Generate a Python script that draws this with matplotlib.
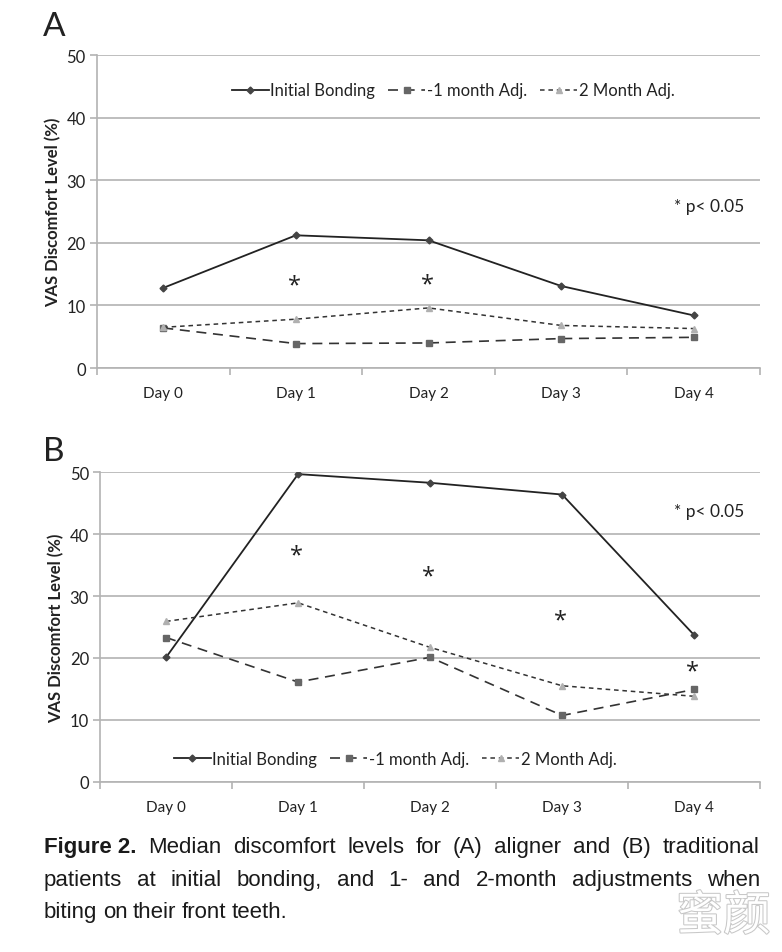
import numpy as np
import matplotlib
matplotlib.use("Agg")
import matplotlib.pyplot as plt
import matplotlib.patheffects as pe

# data
days = ["Day 0", "Day 1", "Day 2", "Day 3", "Day 4"]

a_initial = [12.8, 21.2, 20.4, 13.1, 8.4]
a_one_month = [6.4, 3.9, 4.0, 4.7, 4.9]
a_two_month = [6.5, 7.8, 9.6, 6.8, 6.3]
a_star_days = [1, 2]
a_star_vals = [13.2, 13.4]

b_initial = [20.1, 49.7, 48.3, 46.4, 23.7]
b_one_month = [23.3, 16.1, 20.1, 10.7, 14.9]
b_two_month = [25.9, 28.9, 21.7, 15.5, 13.8]
b_star_days = [1, 2, 3, 4]
b_star_vals = [36.5, 33.1, 26.1, 17.8]

series_names = ["Initial Bonding", "-1 month Adj.", "2 Month Adj."]
y_ticks = [0, 10, 20, 30, 40, 50]

caption_lines = [
    ["Figure 2.", "Median", "discomfort", "levels", "for", "(A)", "aligner", "and", "(B)", "traditional"],
    ["patients", "at", "initial", "bonding,", "and", "1-", "and", "2-month", "adjustments", "when"],
    ["biting", "on", "their", "front", "teeth."],
]

plt.rcParams['font.family'] = ['Lato', 'DejaVu Sans']
grid_c = '#b3b3b3'
txt_c = '#222222'

fig = plt.figure(figsize=(7.82, 9.53), dpi=100)
axA = fig.add_axes([0.124, 0.6128, 0.848, 0.3284])
axB = fig.add_axes([0.128, 0.1787, 0.844, 0.3247])


def draw_panel(ax, init, one, two, sdays, svals, ptext_y, leg_y, leg_x):
    x = np.arange(len(days))
    ax.plot(x, init, color='#222222', lw=1.3, marker='D', ms=3.5,
            markerfacecolor='#444444', markeredgecolor='#444444',
            label=series_names[0])
    ax.plot(x, one, color='#333333', lw=1.2, ls=(0, (6, 4)), marker='s', ms=5,
            markerfacecolor='#666666', markeredgecolor='#666666',
            label=series_names[1])
    ax.plot(x, two, color='#333333', lw=1.1, ls=(0, (3, 2.5)), marker='^', ms=5,
            markerfacecolor='#b0b0b0', markeredgecolor='#b0b0b0',
            label=series_names[2])
    for d, v in zip(sdays, svals):
        ax.text(d - 0.01, v, '*', ha='center', va='center', fontsize=17,
                family=['Open Sans', 'DejaVu Sans'], color=txt_c)
    ax.text(3.85, ptext_y, '* p< 0.05', ha='left', va='center', fontsize=12.5, color=txt_c)

    ax.set_xlim(-0.5, 4.5)
    ax.set_ylim(0, 50)
    ax.set_yticks(y_ticks)
    ax.yaxis.grid(True, color=grid_c, lw=1.2)
    ax.set_axisbelow(True)
    ax.set_xticks(x)
    ax.set_xticklabels(days, fontsize=11, color=txt_c)
    ax.set_xticks(np.arange(-0.5, 5.0, 1.0), minor=True)
    ax.tick_params(axis='x', which='major', length=0, pad=13)
    ax.tick_params(axis='x', which='minor', length=5, color=grid_c, width=1.2)
    ax.tick_params(axis='y', length=5, color=grid_c, width=1.2, labelsize=12,
                   labelcolor=txt_c, pad=3)
    for s in ['top', 'right']:
        ax.spines[s].set_visible(False)
    for s in ['left', 'bottom']:
        ax.spines[s].set_color(grid_c)
        ax.spines[s].set_linewidth(1.2)
    ax.set_ylabel('VAS Discomfort Level (%)', fontsize=12, fontweight='bold',
                  color=txt_c, labelpad=4)
    ax.legend(loc='center', bbox_to_anchor=(leg_x, leg_y), ncol=3, frameon=False,
              fontsize=12, handlelength=2.2, handletextpad=0.1, columnspacing=0.8,
              labelcolor=txt_c)


draw_panel(axA, a_initial, a_one_month, a_two_month, a_star_days, a_star_vals,
           25.9, 0.887, 0.537)
draw_panel(axB, b_initial, b_one_month, b_two_month, b_star_days, b_star_vals,
           43.8, 0.073, 0.447)

fig.text(0.055, 0.972, 'A', fontsize=24, ha='left', va='center', color=txt_c)
fig.text(0.055, 0.526, 'B', fontsize=24, ha='left', va='center', color=txt_c)

# justified caption
cap_family = ['Liberation Sans', 'DejaVu Sans']
x0, x1 = 44 / 782, 760 / 782
line_y = [1 - 848 / 953, 1 - 881 / 953, 1 - 913 / 953]
fig.canvas.draw()
renderer = fig.canvas.get_renderer()
for li, (words, yy) in enumerate(zip(caption_lines, line_y)):
    objs = []
    for w in words:
        bold = w == "Figure 2."
        t = fig.text(0, yy, w, fontsize=16, family=cap_family, ha='left', va='center',
                     fontweight='bold' if bold else 'normal', color='#1a1a1a')
        objs.append(t)
    widths = [t.get_window_extent(renderer).width / fig.bbox.width for t in objs]
    if li < len(caption_lines) - 1:
        gap = (x1 - x0 - sum(widths)) / (len(objs) - 1)
    else:
        gap = 0.007
    xx = x0
    for t, wd in zip(objs, widths):
        t.set_x(xx)
        xx += wd + gap

# watermark
fig.text(0.925, 0.037, '蜜颜', fontsize=34, family=['Noto Sans CJK SC', 'DejaVu Sans'],
         ha='center', va='center', color='white',
         path_effects=[pe.withStroke(linewidth=1.5, foreground='#c8c8c8')])

fig.savefig('out.png', dpi=100, facecolor='white')
